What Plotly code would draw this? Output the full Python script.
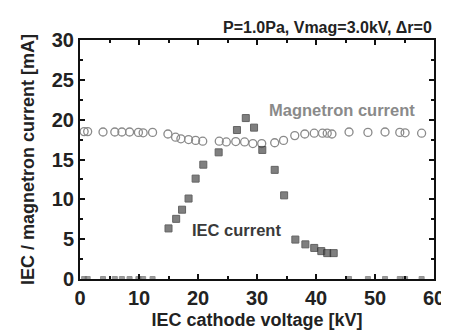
import plotly.graph_objects as go

# Magnetron current (hollow circles)
mag_x = [0.7, 1.3, 3.9, 5.9, 7.1, 8.4, 9.9, 10.7, 12.3, 14.9, 16.2, 17.1, 18.4, 19.6, 20.8,
         23.6, 24.8, 26.4, 27.9, 29.3, 30.8, 33.0, 34.5, 36.4, 38.1, 39.7, 41.1, 41.9, 42.7,
         45.6, 48.8, 51.7, 54.2, 55.1, 57.9]
mag_y = [18.5, 18.5, 18.45, 18.45, 18.45, 18.45, 18.4, 18.35, 18.4, 18.2, 17.8, 17.6, 17.5, 17.4, 17.3,
         17.3, 17.2, 17.25, 17.2, 17.0, 17.0, 17.1, 17.4, 18.0, 18.2, 18.3, 18.3, 18.3, 18.2,
         18.45, 18.4, 18.45, 18.4, 18.35, 18.3]

# IEC current (filled squares)
iec_x = [0.7, 1.3, 3.9, 5.9, 7.1, 8.4, 9.9, 10.7, 12.3,
         15.0, 16.3, 17.3, 18.4, 19.6, 20.9, 23.5, 26.6, 28.1, 29.5, 30.9, 33.0, 34.6,
         36.5, 38.2, 39.7, 40.9, 41.9, 43.0,
         45.6, 48.8, 51.7, 54.2, 55.1, 57.9]
iec_y = [0.0, 0.0, 0.0, 0.0, 0.0, 0.0, 0.0, 0.0, 0.0,
         6.35, 7.55, 8.7, 10.1, 12.6, 14.35, 15.9, 18.7, 20.2, 19.0, 16.2, 13.7, 10.5,
         4.95, 4.35, 3.9, 3.5, 3.25, 3.25,
         0.0, 0.0, 0.0, 0.0, 0.0, 0.0]

x_ticks = [0, 10, 20, 30, 40, 50, 60]
y_ticks = [0, 5, 10, 15, 20, 25, 30]

FONT = "Liberation Sans, Arial, sans-serif"

iec_sizes = [5 if v == 0 else 7 for v in iec_y]
iec_colors = ["#707070" if v == 0 else "#4a4a4a" for v in iec_y]
iec_edges = ["#666666" if v == 0 else "#222222" for v in iec_y]

fig = go.Figure()
fig.add_trace(go.Scatter(
    x=mag_x, y=mag_y, mode="markers", name="Magnetron current",
    marker=dict(symbol="circle-open", size=8, color="#8a8a8a", line=dict(width=1.3, color="#8a8a8a")),
))
fig.add_trace(go.Scatter(
    x=iec_x, y=iec_y, mode="markers", name="IEC current",
    marker=dict(symbol="square", size=iec_sizes, color=iec_colors, line=dict(width=1, color=iec_edges)),
))

axis_common = dict(
    showline=True, linecolor="#111111", linewidth=2, mirror="ticks",
    ticks="inside", ticklen=5, tickwidth=1.5, tickcolor="#111111",
    showgrid=False, zeroline=False,
    tickfont=dict(family=FONT, size=20, color="#222222", weight="bold"),
)

fig.update_xaxes(
    range=[0, 60], tickvals=x_ticks, ticktext=[str(v) for v in x_ticks],
    minor=dict(ticks="inside", ticklen=3, tickcolor="#111111", dtick=5, tick0=0),
    title=dict(text="IEC cathode voltage [kV]", font=dict(family=FONT, size=18, color="#222222", weight="bold"), standoff=5),
    **axis_common,
)
fig.update_yaxes(
    range=[0, 30], tickvals=y_ticks, ticktext=[str(v) for v in y_ticks],
    minor=dict(ticks="inside", ticklen=3, tickcolor="#111111", dtick=2.5, tick0=0),
    title=dict(text="IEC / magnetron current [mA]", font=dict(family=FONT, size=18, color="#222222", weight="bold"), standoff=12),
    **axis_common,
)

fig.add_annotation(x=44.4, y=21.2, xref="x", yref="y", text="Magnetron current", showarrow=False,
                   font=dict(family=FONT, size=16.5, color="#8a8a8a", weight="bold"))
fig.add_annotation(x=26.6, y=6.15, xref="x", yref="y", text="IEC current", showarrow=False,
                   font=dict(family=FONT, size=16.5, color="#3a3a3a", weight="bold"))
fig.add_annotation(x=1.0, y=1.0, xref="paper", yref="paper", xanchor="right", yanchor="bottom", yshift=2,
                   text="P=1.0Pa, Vmag=3.0kV, \u0394r=0", showarrow=False,
                   font=dict(family=FONT, size=16, color="#222222", weight="bold"))

fig.update_layout(
    width=449, height=331,
    margin=dict(l=72, r=12, t=32, b=50),
    paper_bgcolor="white", plot_bgcolor="white",
    showlegend=False,
)

fig.write_html("out.html")
